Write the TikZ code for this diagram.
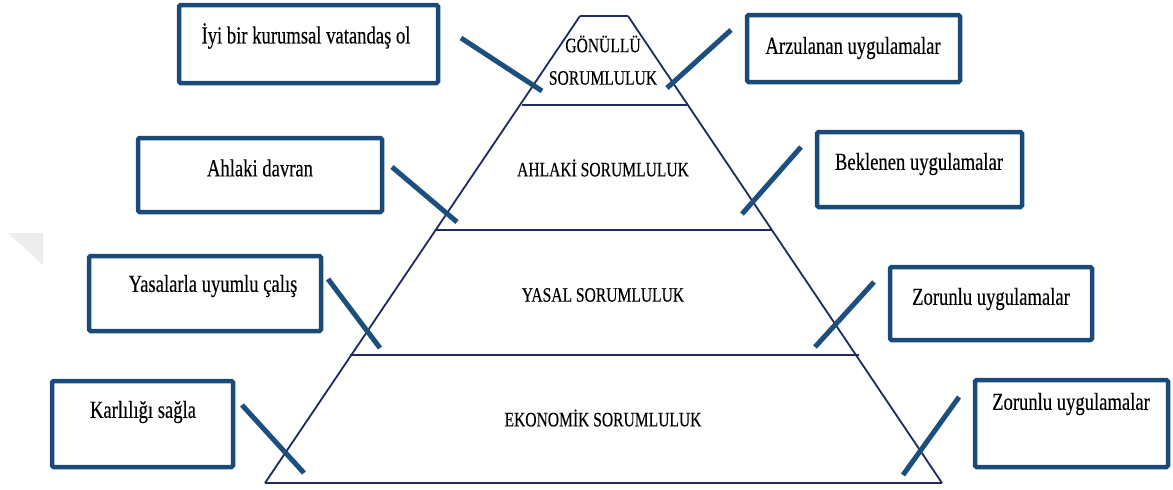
\documentclass[tikz,border=0pt]{standalone}
\usepackage{fontspec}
\setmainfont{Liberation Serif}[FakeStretch=0.76,FakeBold=0.3]
\definecolor{boxblue}{HTML}{1A4A78}
\definecolor{pyrnavy}{HTML}{1F2A5E}
\definecolor{tickblue}{HTML}{1C4F7E}
\definecolor{wmgray}{HTML}{EDEDED}
\begin{document}
\begin{tikzpicture}[x=1pt,y=-1pt,
  boxnode/.style={draw=boxblue,line width=4.5pt,rounded corners=1.5pt,fill=white,inner sep=0pt},
  boxtext/.style={font=\fontsize{24.5}{28}\selectfont,inner sep=0pt,text=black},
  pyrtext/.style={font=\fontsize{20.5}{24}\selectfont,inner sep=0pt,text=black},
  side/.style={draw=pyrnavy,line width=1.8pt},
  level/.style={draw=pyrnavy,line width=2.6pt},
  tick/.style={draw=tickblue,line width=5pt}]
\useasboundingbox (0,0) rectangle (1173,490);
\fill[white] (0,0) rectangle (1173,490);
% faint watermark
\fill[wmgray] (8,233) -- (43,233) -- (43,265) -- cycle;

% pyramid corners
\coordinate (pt1) at (580,16);
\coordinate (pt2) at (628,16);
\coordinate (pl1) at (522,105);
\coordinate (pr1) at (687,105);
\coordinate (pl2) at (435,230);
\coordinate (pr2) at (772,230);
\coordinate (pl3) at (350,355);
\coordinate (pr3) at (859,355);
\coordinate (pbl) at (265,483);
\coordinate (pbr) at (942,483);

\draw[side] (pt1) -- (pbl);
\draw[side] (pt2) -- (pbr);
\draw[level] (pt1) -- (pt2);
\draw[level] (pl1) -- (pr1);
\draw[level] (pl2) -- (pr2);
\draw[level] (pl3) -- (pr3);
\draw[level] (pbl) -- (pbr);

% pyramid labels
\node[pyrtext] (g1) at (603,44) {GÖNÜLLÜ};
\node[pyrtext] (g2) at (603,78) {SORUMLULUK};
\node[pyrtext] (ah) at (603,168) {AHLAKİ SORUMLULUK};
\node[pyrtext] (ya) at (603,295) {YASAL SORUMLULUK};
\node[pyrtext] (ek) at (603,418) {EKONOMİK SORUMLULUK};

% boxes
\node[boxnode,minimum width=259pt,minimum height=78pt] (b1) at (308.5,44) {};
\node[boxtext] (t1) at (306,36) {İyi bir kurumsal vatandaş ol};
\node[boxnode,minimum width=213pt,minimum height=67pt] (b2) at (853.5,48.5) {};
\node[boxtext] (t2) at (853,48) {Arzulanan uygulamalar};
\node[boxnode,minimum width=244pt,minimum height=74pt] (b3) at (260,175) {};
\node[boxtext] (t3) at (260,168) {Ahlaki davran};
\node[boxnode,minimum width=232pt,minimum height=75pt] (b4) at (205,293.5) {};
\node[boxtext] (t4) at (213,286) {Yasalarla uyumlu çalış};
\node[boxnode,minimum width=205pt,minimum height=75pt] (b5) at (919.5,169.5) {};
\node[boxtext] (t5) at (919,164) {Beklenen uygulamalar};
\node[boxnode,minimum width=202pt,minimum height=73pt] (b6) at (991,303.5) {};
\node[boxtext] (t6) at (991,299) {Zorunlu uygulamalar};
\node[boxnode,minimum width=181pt,minimum height=86pt] (b7) at (142.5,424) {};
\node[boxtext] (t7) at (143,412) {Karlılığı sağla};
\node[boxnode,minimum width=193pt,minimum height=87pt] (b8) at (1071.5,423.5) {};
\node[boxtext] (t8) at (1071,404) {Zorunlu uygulamalar};

% crossing ticks
\coordinate (k1a) at (461,38);  \coordinate (k1b) at (542,91);
\coordinate (k2a) at (667,88);  \coordinate (k2b) at (731,30);
\coordinate (k3a) at (392,167); \coordinate (k3b) at (457,222);
\coordinate (k4a) at (742,214); \coordinate (k4b) at (801,147);
\coordinate (k5a) at (328,279); \coordinate (k5b) at (380,348);
\coordinate (k6a) at (815,347); \coordinate (k6b) at (874,282);
\coordinate (k7a) at (242,405); \coordinate (k7b) at (304,473);
\coordinate (k8a) at (903,475); \coordinate (k8b) at (959,397);
\draw[tick] (k1a) -- (k1b);
\draw[tick] (k2a) -- (k2b);
\draw[tick] (k3a) -- (k3b);
\draw[tick] (k4a) -- (k4b);
\draw[tick] (k5a) -- (k5b);
\draw[tick] (k6a) -- (k6b);
\draw[tick] (k7a) -- (k7b);
\draw[tick] (k8a) -- (k8b);
\end{tikzpicture}
\end{document}
